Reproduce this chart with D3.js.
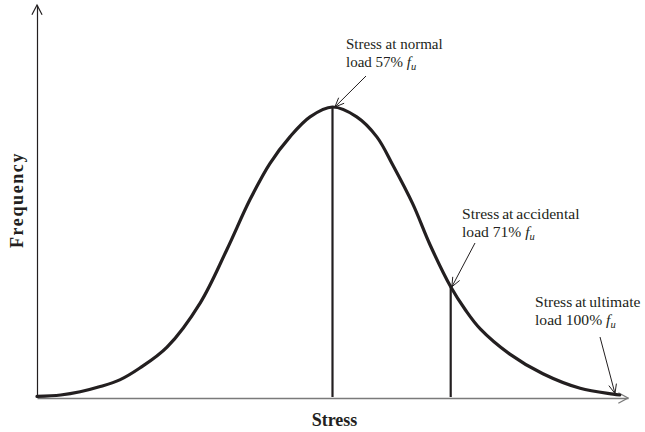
<!DOCTYPE html>
<html>
<head>
<meta charset="utf-8">
<script src="https://cdn.jsdelivr.net/npm/d3@7"></script>
<style>
  body { margin: 0; background: #fff; }
  text { font-family: "Liberation Serif", "Times New Roman", serif; fill: #231f20; }
</style>
</head>
<body>
<svg id="chart" width="645" height="432"></svg>
<script>
// curve (stress in arbitrary units, frequency relative to peak = 100)
var stress = [0, 4, 7.3, 10.7, 14, 17.4, 22, 27.6, 32.1, 36, 39.4, 42.8, 46.2, 50,
              54.1, 57.5, 60.2, 63.6, 66.5, 70, 72.5, 75, 80, 85.6, 91.9, 97.5, 98.6]
var freq = [0.2, 0.7, 1.8, 3.6, 5.9, 10, 17.2, 32.4, 50.7, 67.9, 80.5, 89.7, 96.6, 100,
            96.6, 89.7, 80, 66.5, 52.5, 38, 30, 23.5, 14.8, 8, 3, 1.0, 0.7]

// vertical lines at normal and accidental load
var markStress = [50, 70]
var markFreq = [100, 38]

// annotations: first line, load %, where the arrow points to
var noteLines = ["Stress at normal", "Stress at accidental", "Stress at ultimate"]
var notePct = ["57%", "71%", "100%"]
var noteStress = [50.4, 70.2, 97.8]
var noteFreq = [100, 38, 1.2]

const svg = d3.select("#chart")
var x = d3.scaleLinear().domain([0, 100]).range([37, 628]),
    y = d3.scaleLinear().domain([0, 100]).range([397, 107]);
var yTop = y.invert(5)

// x axis (grey) and y axis, no ticks
svg.append("g")
    .attr("transform", "translate(0,398)")
    .call(d3.axisBottom(x).tickValues([]).tickSizeOuter(0))
    .select(".domain").attr("stroke", "#7a7a7a").attr("stroke-width", 1.6)

svg.append("g")
    .attr("transform", "translate(37,0)")
    .call(d3.axisLeft(y.copy().domain([0, yTop]).range([397, 5])).tickValues([]).tickSizeOuter(0))
    .select(".domain").attr("stroke", "#231f20").attr("stroke-width", 1.2)

// arrow heads of the axes
function vee(tipX, tipY, angle, len, spread) {
  var a1 = angle + Math.PI - spread, a2 = angle + Math.PI + spread
  return "M" + (tipX + len * Math.cos(a1)) + "," + (tipY + len * Math.sin(a1)) +
         "L" + tipX + "," + tipY +
         "L" + (tipX + len * Math.cos(a2)) + "," + (tipY + len * Math.sin(a2))
}
svg.append("path")
    .attr("d", vee(x(100), 398, 0, 11, 0.5))
    .attr("fill", "none").attr("stroke", "#7a7a7a").attr("stroke-width", 1.3)
svg.append("path")
    .attr("d", vee(37, 5, -Math.PI / 2, 11, 0.48))
    .attr("fill", "none").attr("stroke", "#231f20").attr("stroke-width", 1.2)

// vertical lines
svg.selectAll(".mark")
  .data(markStress)
  .enter().append("line")
    .attr("class", "mark")
    .attr("x1", function(d) { return x(d) })
    .attr("x2", function(d) { return x(d) })
    .attr("y1", y(0))
    .attr("y2", function(d, i) { return y(markFreq[i]) })
    .attr("stroke", "#231f20")
    .attr("stroke-width", 2.2)

// the distribution curve
var line = d3.line()
    .x(function(d, i) { return x(stress[i]) })
    .y(function(d) { return y(d) })
    .curve(d3.curveCatmullRom.alpha(0.5))

svg.append("path")
    .datum(freq)
    .attr("d", line)
    .attr("fill", "none")
    .attr("stroke", "#231f20")
    .attr("stroke-width", 3.2)
    .attr("stroke-linecap", "round")

// annotation texts and arrows
var notePos = [[346, 49], [462, 219], [535, 307]]
var noteFrom = [[366, 76], [475, 243], [600, 337]]

noteLines.forEach(function(t, i) {
  var fs = i == 0 ? 15 : 15.6
  var g = svg.append("g")
  g.append("text")
      .attr("x", notePos[i][0]).attr("y", notePos[i][1])
      .attr("font-size", fs)
      .attr("word-spacing", i == 0 ? 0 : -1)
      .text(t)
  var t2 = g.append("text")
      .attr("x", notePos[i][0]).attr("y", notePos[i][1] + 18)
      .attr("font-size", fs)
  t2.append("tspan").text("load " + notePct[i] + " ")
  t2.append("tspan").attr("font-style", "italic").text("f")
  t2.append("tspan").attr("font-style", "italic").attr("font-size", 10.5).attr("dy", 3).text("u")

  var tx = x(noteStress[i]), ty = y(noteFreq[i])
  var fx = noteFrom[i][0], fy = noteFrom[i][1]
  g.append("line")
      .attr("x1", fx).attr("y1", fy).attr("x2", tx).attr("y2", ty)
      .attr("stroke", "#231f20").attr("stroke-width", 1)
  g.append("path")
      .attr("d", vee(tx, ty, Math.atan2(ty - fy, tx - fx), 10, 0.4))
      .attr("fill", "none").attr("stroke", "#231f20").attr("stroke-width", 1)
})

// axis titles
svg.append("text")
    .attr("x", 334.5).attr("y", 426)
    .attr("text-anchor", "middle")
    .attr("font-size", 18).attr("font-weight", "bold")
    .text("Stress")

svg.append("text")
    .attr("transform", "translate(23,200) rotate(-90)")
    .attr("text-anchor", "middle")
    .attr("font-size", 18).attr("font-weight", "bold")
    .attr("letter-spacing", 1.6)
    .text("Frequency")
</script>
</body>
</html>
